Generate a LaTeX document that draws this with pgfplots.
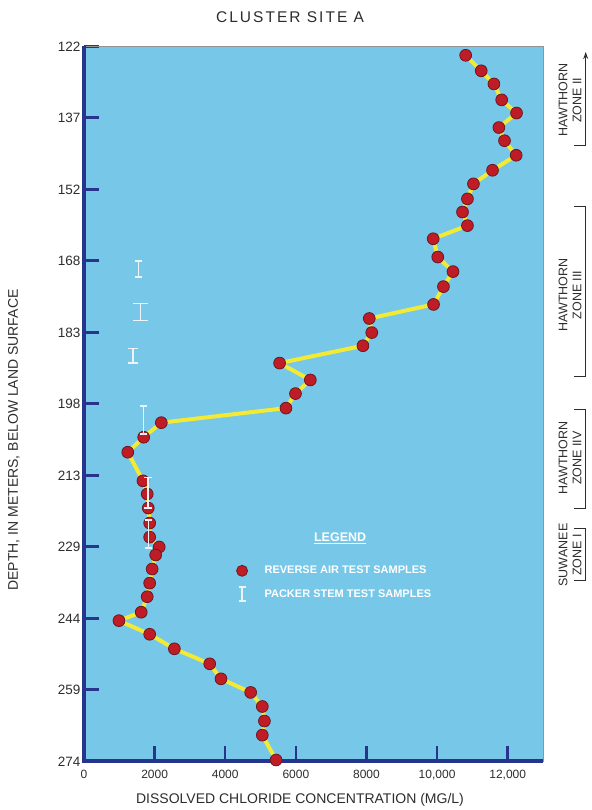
\documentclass[border=0pt]{standalone}
\usepackage{pgfplots}
\pgfplotsset{compat=1.18}
\usetikzlibrary{arrows.meta}
\usepackage{fontspec}
\setmainfont{Liberation Sans}
\definecolor{bgblue}{RGB}{118,199,232}
\definecolor{lineyellow}{RGB}{242,234,52}
\definecolor{markred}{RGB}{192,28,38}
\definecolor{markdark}{RGB}{105,25,35}
\definecolor{navy}{RGB}{38,52,140}
\definecolor{txt}{RGB}{45,45,45}
\definecolor{barwhite}{RGB}{238,243,248}
\begin{document}
\begin{tikzpicture}
\begin{axis}[
  set layers,
  scale only axis, width=459pt, height=715pt,
  xmin=0, xmax=13000, ymin=121.92, ymax=274.32, y dir=reverse,
  axis background/.style={fill=bgblue},
  axis line style={draw=gray!85, line width=0.8pt},
  clip=false, scaled x ticks=false,
  xtick={0,2000,4000,6000,8000,10000,12000},
  xticklabels={0,2000,4000,6000,8000,{10,000},{12,000}},
  ytick={121.92,137.16,152.4,167.64,182.88,198.12,213.36,228.6,243.84,259.08,274.32},
  yticklabels={122,137,152,168,183,198,213,229,244,259,274},
  tick align=inside, xtick pos=left, ytick pos=left,
  major tick length=15pt,
  xtick style={navy, line width=2.5pt},
  ytick style={navy, line width=3pt},
  /pgf/number format/assume math mode=true,
  xticklabel style={font=\fontsize{12}{12}\selectfont, text=txt, yshift=-5pt},
  yticklabel style={font=\fontsize{13.5}{13.5}\selectfont, text=txt},
  xlabel={DISSOLVED CHLORIDE CONCENTRATION (MG/L)},
  ylabel={DEPTH, IN METERS, BELOW LAND SURFACE},
  xlabel style={at={(axis description cs:0.4706,-0.0538)}, anchor=center, font=\fontsize{14}{14}\selectfont, text=txt},
  ylabel style={at={(axis description cs:-0.1525,0.4497)}, anchor=center, font=\fontsize{14}{14}\selectfont, text=txt},
  legend style={draw=none, fill=none, at={(axis description cs:0.3246,0.279)}, anchor=north west,
    font=\bfseries\fontsize{11}{11}\selectfont, text=white, row sep=9pt, cells={anchor=west}},
]
\addplot[lineyellow, line width=4pt, mark=*, mark size=5.9pt,
  mark options={fill=markred, draw=markdark, line width=0.8pt},
  legend image code/.code={\filldraw[fill=markred, draw=markdark, line width=0.8pt] (0.2cm,0cm) circle (5.5pt); \path (0.85cm,0cm);}]
coordinates {
(10810,123.8) (11250,127.1) (11610,129.9) (11830,133.3) (12250,136.1)
(11750,139.2) (11910,142.0) (12240,145.1) (11570,148.3) (11030,151.2)
(10860,154.4) (10720,157.2) (10860,160.1) (9890,162.9) (10020,166.8)
(10450,169.9) (10180,173.1) (9900,176.9) (8080,179.9) (8150,182.9)
(7900,185.7) (5540,189.4) (6410,193.0) (5990,195.9) (5720,199.0)
(2190,202.1) (1690,205.2) (1240,208.4) (1670,214.5) (1790,217.3)
(1820,220.3) (1860,223.5) (1860,226.5) (2130,228.6) (2030,230.3)
(1930,233.3) (1860,236.3) (1790,239.2) (1620,242.5) (990,244.3)
(1860,247.2) (2560,250.3) (3560,253.5) (3880,256.7) (4720,259.6)
(5050,262.6) (5110,265.7) (5050,268.7) (5440,274.0)
};
\addlegendentry{REVERSE AIR TEST SAMPLES}
\addplot[on layer=axis foreground, draw=none, mark=none,
  legend image code/.code={\draw[barwhite, line width=1.6pt] (0.2cm,-7pt) -- (0.2cm,7pt) (0.2cm-3.5pt,-7pt) -- (0.2cm+3.5pt,-7pt) (0.2cm-3.5pt,7pt) -- (0.2cm+3.5pt,7pt); \path (0.85cm,0cm);},
  error bars/.cd, y dir=both, y explicit,
  error bar style={barwhite, line width=1.6pt},
  error mark options={barwhite, line width=1.6pt, mark size=3.7pt, rotate=90}]
coordinates {
(1540,169.4) +- (0,1.7)
(1690,201.5) +- (0,3.0)
(1810,217.05) +- (0,3.25)
(1830,225.8) +- (0,3.0)
};
\addlegendentry{PACKER STEM TEST SAMPLES}
\addplot[forget plot, on layer=axis foreground, draw=none, mark=none,
  error bars/.cd, y dir=both, y explicit,
  error bar style={barwhite, line width=1.6pt},
  error mark options={barwhite, line width=1.6pt, mark size=7.3pt, rotate=90}]
coordinates {(1600,178.5) +- (0,1.8)};
\addplot[forget plot, on layer=axis foreground, draw=none, mark=none,
  error bars/.cd, y dir=both, y explicit,
  error bar style={barwhite, line width=1.6pt},
  error mark options={barwhite, line width=1.6pt, mark size=5.3pt, rotate=90}]
coordinates {(1390,187.85) +- (0,1.55)};
\draw[navy, line width=4pt] (axis description cs:0,1) -- (axis description cs:0,0) -- (axis description cs:1,0);
\node[font=\fontsize{15.5}{15.5}\selectfont, text=txt] at (axis description cs:0.449,1) [yshift=29.5pt] {\addfontfeature{LetterSpace=13}CLUSTER SITE A};
\node[font=\bfseries\fontsize{12.5}{12.5}\selectfont, text=white] at (axis description cs:0.558,0.3126) {\underline{LEGEND}};
% zone labels
\begin{scope}[font=\fontsize{12.5}{14}\selectfont, text=txt]
\node[rotate=90, align=center] at (axis description cs:1.0588,0.925) {HAWTHORN\\ZONE II};
\node[rotate=90, align=center] at (axis description cs:1.0588,0.6524) {HAWTHORN\\ZONE III};
\node[rotate=90, align=center] at (axis description cs:1.0588,0.4245) {HAWTHORN\\ZONE IIV};
\node[rotate=90, align=center] at (axis description cs:1.0588,0.2888) {SUWANEE\\ZONE I};
\end{scope}
\draw[txt, line width=0.9pt, -{Stealth[open,length=7pt,width=5pt]}] (axis description cs:1.0675,0.8622) -- (axis description cs:1.093,0.8622) -- (axis description cs:1.093,0.9923);
\draw[txt, line width=0.9pt] (axis description cs:1.0675,0.776) -- (axis description cs:1.093,0.776) -- (axis description cs:1.093,0.539) -- (axis description cs:1.0675,0.539);
\draw[txt, line width=0.9pt] (axis description cs:1.0675,0.4926) -- (axis description cs:1.093,0.4926) -- (axis description cs:1.093,0.3545) -- (axis description cs:1.0675,0.3545);
\draw[txt, line width=0.9pt] (axis description cs:1.0675,0.3266) -- (axis description cs:1.093,0.3266) -- (axis description cs:1.093,0.2538) -- (axis description cs:1.0675,0.2538);
\end{axis}
\path (-84pt,-48.5pt) rectangle (507pt,761.5pt);
\end{tikzpicture}
\end{document}
